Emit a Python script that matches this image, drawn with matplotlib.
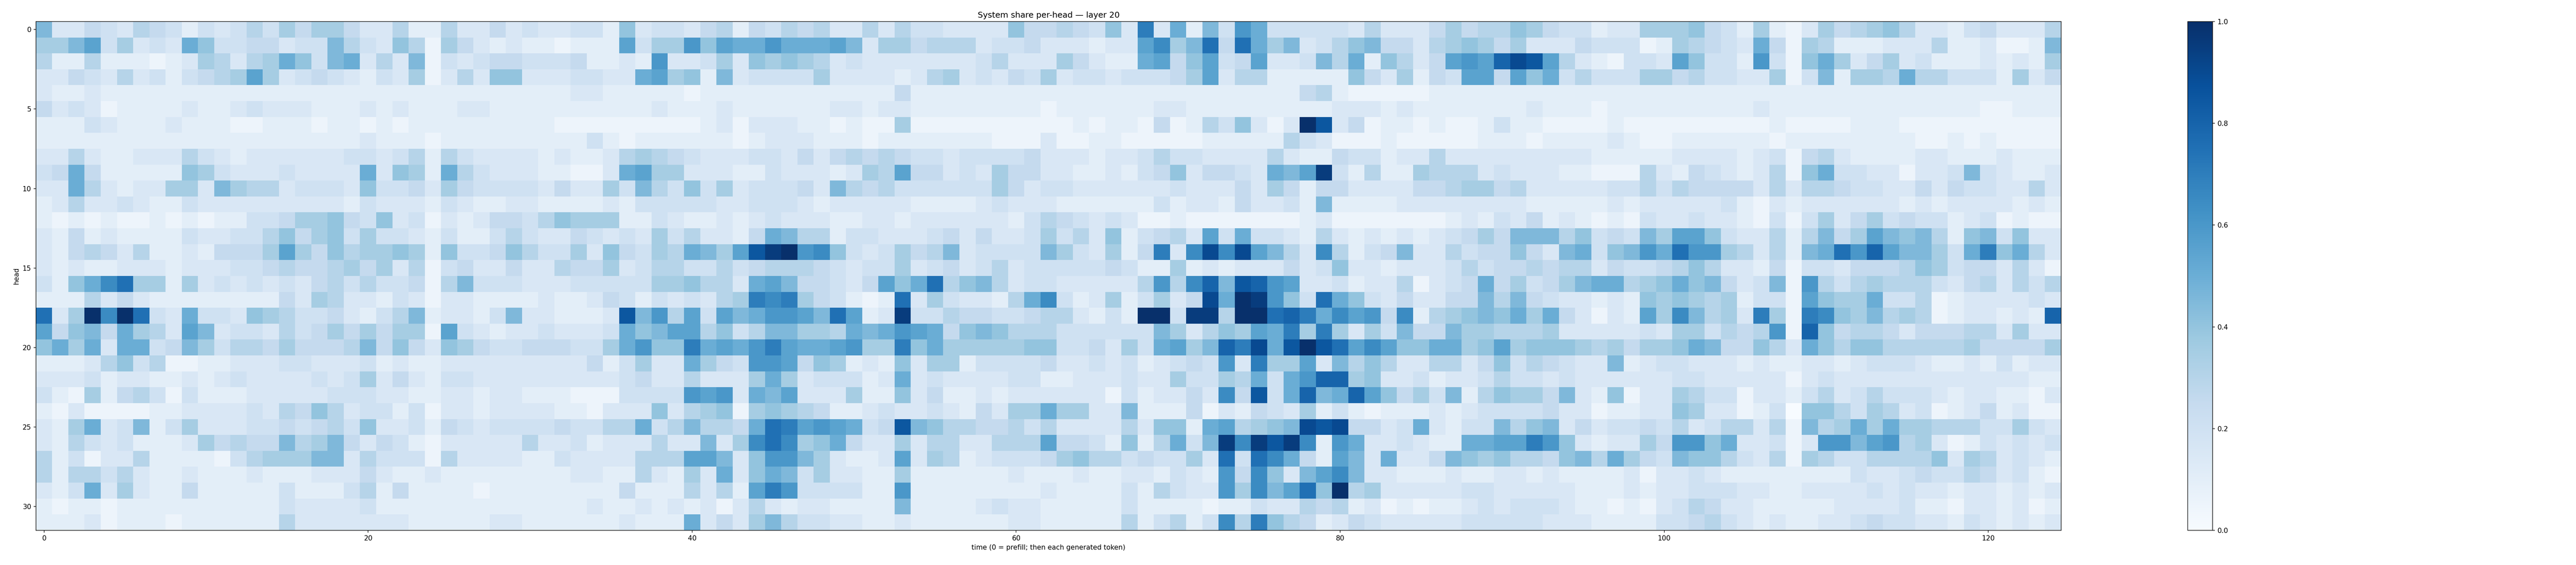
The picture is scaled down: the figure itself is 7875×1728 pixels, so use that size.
import numpy as np
import matplotlib
matplotlib.use("Agg")
import matplotlib.pyplot as plt

# one character per time step; value = index in LEVELS * 0.05
LEVELS = "0123456789abcdefghijk"

heads_00_07 = [
    "93354365424346475775336226335343 34428344356254656336364433338556 5483e3a294ca44444363335756687544 23377785427213756786332453336",
    "779b47343a8445534496438617532322 1222b477c8baacaaab93775666344533 3233bd79f5fa79346895536787573335 4441276543a517622233362231129",
    "622622212376367a849a363914345544 452232c3347387876343333333463337 5322ab58b45b33496a28635bcbgihb63 21443b8442c418a73573422232327",
    "3354363424567b734543243713638833 34433ab78293444473333236734354 73 44344457b366222228537254bb5b8a46 4447756443371492776a664442735",
    "32232222222222222222222222222222 23322222122222222222252222222222 22222222222222562111112222222222 22222222222222222222222222222",
    "53431222232234333222323222332222 22222232223222222332332222222212 22222332222222223332322222223222 12222222223222222222222211222",
    "22243222322211222122121222222222 11111111123133322121171111111111 21221512648313kh3512212112422111 12111111111211112221111111111",
    "22222222222222222222322212222222 22421222222123332221222222211131 12211111222226431112111112221222 23211222222122222222112121111",
]

heads_08_15 = [
    "33632233364323333334434626433332 32236765433344353565654434444533 32334644333363225442336333333333 22222333323415632222332223222",
    "45a52222287433343333a3872a643332 2113ab773332243332376b5534375533 223245835543a9bj4262276663433322 11163254323618a44331334943223",
    "33a63233773976634443844537544443 53374964847344453965644444475344 33333343335375255333355677563333 34464655553636654433535443363",
    "23633432243333333332433324322332 22232444443344432333332222343332 22222423325334292222333333332222 23233333421323333332323333232",
    "21212112121224457785483413235546 87772243223234333223323333332465 43431121111111231111111232435232 12143343321414735745442341211",
    "32523222243344685784744324224643 3543437463325a966244333453533474 63824563b4a443263232323457599968 45497bb8433626957b98962894833",
    "325653622325557b7586778728445864 47385476a97bhjkcd843475693444497 43725e3didib963d62459336455853 9a 489cafcc763629afcgb9974ae8a63",
    "32322333233344565567573614533533 65573466446456665434473453463444 44542272323335348332333464556566 35445686332514435556874553631",
]

heads_16_23 = [
    "428adf772734343435646445169444 33 344444778663ab955435b8af68963443 33336c6dg9hgcb33423361345a574579 aa678a8953491c646766643563646",
    "22263532222222253763324313322223 223542434367ede754212f3743326ad4 23724735iakjc84fa84353355969543 3 2328787672441b877a44612333343",
    "f37kdkf43a44387644532469233249 33 2223h9c6b4b9accb9fb23j4465544566 3242kk4jj6kkfgeadbc5d267898a7a53 132b7d9673e71ed8796761233232g",
    "b5895a763b934436457575771b432334 3334a89bb684699776a9acba58986664 44444973687bae7e73749559776667 33 3334377465 6c1g856653555663733",
    "8a7a3aa4597466575556958538754455 5447ac88eabacebaabc77e8a77777884 45374ab79geiahkhfbdb88aa78b78887 675778a955863a868866666755557",
    "22236846112233344333423223333333 33524733a754ccb58723283772444453 343423454c3e77b39686336635846543 39234433323223323444322324233",
    "33342332232343333434735324433333 3333453363337a7344423a3433334422 33343374476a4acgg783342334644343 33333443333313433333333333322",
    "42172564142223333344433223323322 21114444cbc3a9b3337228352232333 3 331423353d5h4ag9agb8574926877593 28133764413324634644432332213",
]

heads_24_31 = [
    "21311112233334365863442413323333 22133383678178765223433432537 7a7 73392225132543724212223234444533 12233873312408864763412352311",
    "327a349247333445456483342543 4444 54466a469665afebcba45h9866556463 33363882ab6789ihi5534a3244968935 3445463466361967a7a7766644743",
    "32643422237565596795354213333363 342333633937dfd78a533736633666b5 542826a49jdjhjd2ca334322aabbec83 23375cc8a33413cc9bc6731243434",
    "62413362222146777993644416333322 43333666bb938cc973223b3762344457 866454473f4fda52b93a335987866589 6a754988643617644666683763432",
    "62664632232223222333532232222222 2332263273a38a9473322722222232 22 322332432c5d839bd933222322332322 22313343222222224334544653421",
    "324a373225222224222462522221 2222 222252226362bec444422c2222222232 222426433c7d9bf8k673333344333332 22323344433223333434332332323",
    "21221222222222243333422222222222 22322323231363233222292222343322 222422221224336562312122343444 32 21213465332222233334221332312",
    "22231222122222263333333222223322 22223222a353796443322322222233 22 222624624d6e8652354333334444433 3 22224456432322334544332432323",
]

heads = heads_00_07 + heads_08_15 + heads_16_23 + heads_24_31
share = np.array([[LEVELS.index(c) * 0.05 for c in row.replace(" ", "")] for row in heads])

W, H = 7875, 1728
fig = plt.figure(figsize=(W / 150, H / 150), dpi=150)
ax = fig.add_axes([110 / W, 106 / H, 6191 / W, 1556 / H])
im = ax.imshow(share, aspect="auto", cmap="Blues", vmin=0, vmax=1, interpolation="nearest")
ax.set_title("System share per-head — layer 20")
ax.set_xlabel("time (0 = prefill; then each generated token)")
ax.set_ylabel("head")

cax = fig.add_axes([6688 / W, 106 / H, 76 / W, 1556 / H])
fig.colorbar(im, cax=cax)

fig.savefig("out.png", dpi=150)
